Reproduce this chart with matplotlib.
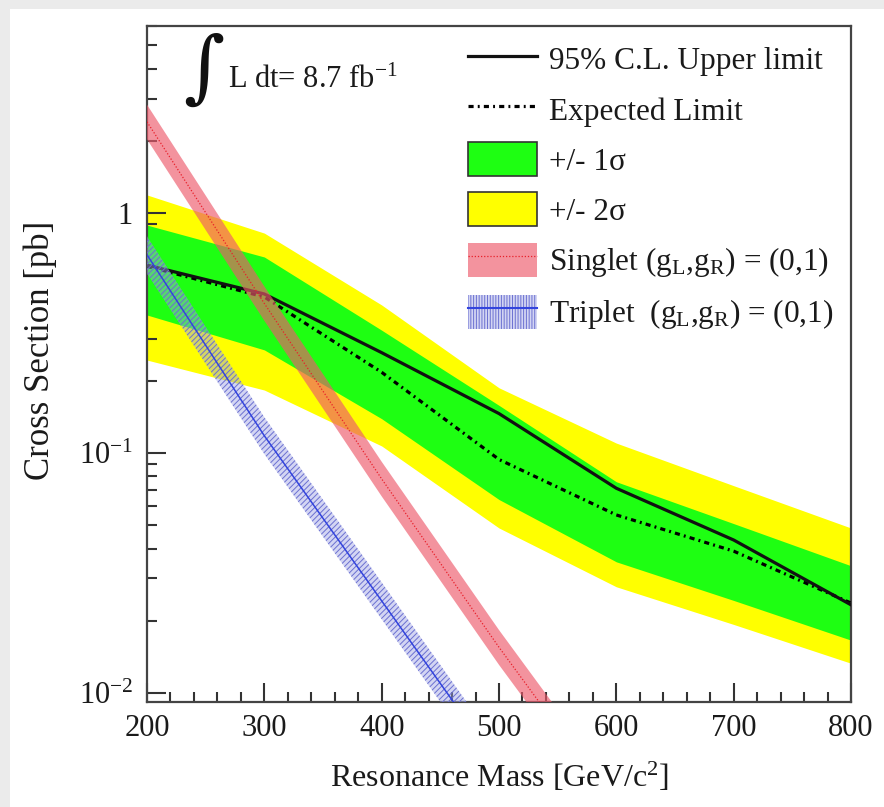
import matplotlib
matplotlib.use("Agg")
import matplotlib.pyplot as plt
from matplotlib.patches import Patch, Rectangle
from matplotlib.lines import Line2D
from matplotlib.ticker import FixedLocator, NullFormatter

plt.rcParams['font.family'] = ['Liberation Serif', 'DejaVu Serif']
plt.rcParams['mathtext.fontset'] = 'custom'
plt.rcParams['mathtext.rm'] = 'Liberation Serif'
plt.rcParams['mathtext.it'] = 'Liberation Serif:italic'
plt.rcParams['mathtext.default'] = 'rm'
plt.rcParams['hatch.linewidth'] = 0.7

# ---- data ----
mass = [200, 300, 400, 500, 600, 700, 800]
observed = [0.607, 0.46, 0.262, 0.146, 0.0713, 0.0434, 0.0233]
expected = [0.60, 0.447, 0.217, 0.094, 0.0552, 0.039, 0.0237]
one_sigma_low = [0.376, 0.269, 0.139, 0.0640, 0.0352, 0.0243, 0.0166]
one_sigma_high = [0.891, 0.656, 0.325, 0.158, 0.0759, 0.0508, 0.0339]
two_sigma_low = [0.244, 0.183, 0.107, 0.0487, 0.0277, 0.0193, 0.0133]
two_sigma_high = [1.19, 0.825, 0.414, 0.187, 0.110, 0.0731, 0.0487]

theory_mass = [200, 300, 400, 500, 550]
singlet = [2.40, 0.42, 0.078, 0.0155, 0.0072]
singlet_high = [2.83, 0.495, 0.092, 0.0183, 0.0085]
singlet_low = [2.03, 0.356, 0.066, 0.0131, 0.0061]
triplet = [0.67, 0.118, 0.0242, 0.00496, 0.0023]
triplet_high = [0.80, 0.141, 0.0289, 0.00592, 0.00275]
triplet_low = [0.56, 0.099, 0.0203, 0.00415, 0.00193]

x_ticks = [200, 300, 400, 500, 600, 700, 800]
y_ticks = [0.01, 0.1, 1]
y_tick_labels = ['$10^{-2}$', '$10^{-1}$', '1']

labels = ['95% C.L. Upper limit', 'Expected Limit', '+/- 1σ', '+/- 2σ',
          'Singlet (g$_{L}$,g$_{R}$) = (0,1)', 'Triplet  (g$_{L}$,g$_{R}$) = (0,1)']

# ---- figure ----
W, H = 884, 807
fig = plt.figure(figsize=(W / 100, H / 100), dpi=100, facecolor='white')
fig.patches.append(Rectangle((0, 1 - 9 / H), 1, 9 / H, transform=fig.transFigure,
                             facecolor='#ebebeb', edgecolor='none', zorder=0))
fig.patches.append(Rectangle((0, 0), 10 / W, 1, transform=fig.transFigure,
                             facecolor='#ebebeb', edgecolor='none', zorder=0))

ax = fig.add_axes([147 / W, 1 - 702 / H, (851 - 147) / W, (702 - 26) / H])

green = '#1eff12'
yellow = '#ffff00'
red_face = (0.93, 0.35, 0.42)
blue_face = (0.62, 0.64, 0.90)
blue_edge = (0.42, 0.44, 0.82)

ax.fill_between(mass, two_sigma_low, two_sigma_high, color=yellow, lw=0, zorder=1)
ax.fill_between(mass, one_sigma_low, one_sigma_high, color=green, lw=0, zorder=2)
exp_ls = (0, (1.6, 1.3, 0.6, 1.3))
ax.plot(mass, expected, color='black', lw=2.3, ls=exp_ls, zorder=3)
ax.plot(mass, observed, color='#111111', lw=2.3, zorder=4)

ax.fill_between(theory_mass, singlet_low, singlet_high, facecolor=red_face,
                alpha=0.65, lw=0, zorder=5)
ax.plot(theory_mass, singlet, color='#e8202a', lw=0.9, ls=(0, (1, 1.5)), zorder=6)
ax.fill_between(theory_mass, triplet_low, triplet_high, facecolor=blue_face,
                alpha=0.45, lw=0, zorder=5)
ax.fill_between(theory_mass, triplet_low, triplet_high, facecolor='none',
                edgecolor=blue_edge, hatch='//////', lw=0, zorder=5)
ax.plot(theory_mass, triplet, color='#3344dd', lw=1.1, zorder=6)

ax.set_yscale('log')
ax.set_xlim(200, 800)
ax.set_ylim(0.00917, 6.02)

ax.xaxis.set_major_locator(FixedLocator(x_ticks))
ax.xaxis.set_minor_locator(FixedLocator(list(range(200, 801, 20))))
ax.set_xticklabels([str(v) for v in x_ticks])
ax.yaxis.set_major_locator(FixedLocator(y_ticks))
ax.set_yticklabels(y_tick_labels)
minor_y = [m * d for d in (0.01, 0.1, 1) for m in range(2, 10)]
ax.yaxis.set_minor_locator(FixedLocator(minor_y))
ax.yaxis.set_minor_formatter(NullFormatter())

ax.tick_params(which='both', direction='in', top=False, right=False,
               colors='#333333', labelcolor='#1a1a1a', width=1.5, labelsize=22)
ax.tick_params(which='major', length=14)
ax.tick_params(which='minor', length=7.5)
ax.tick_params(axis='x', which='major', pad=9)
ax.tick_params(axis='y', which='major', pad=10)
for s in ax.spines.values():
    s.set_linewidth(1.6)
    s.set_color('#444444')

ax.set_xlabel('Resonance Mass [GeV/c$^{2}$]', fontsize=23, color='#1a1a1a')
ax.xaxis.set_label_coords(0.5, -0.087)
ax.set_ylabel('Cross Section [pb]', fontsize=25, color='#1a1a1a')
ax.yaxis.set_label_coords(-0.128, 0.52)

# luminosity annotation
ax.text(204 / W, 1 - 71 / H, '∫', transform=fig.transFigure, fontsize=57,
        family='DejaVu Serif', ha='center', va='center', color='#111111')
ax.text(228 / W, 1 - 88 / H, 'L dt= 8.7 fb$^{-1}$', transform=fig.transFigure,
        fontsize=22, ha='left', va='baseline', color='#1a1a1a')

# legend
h_obs = Line2D([], [], color='#111111', lw=2.3)
h_exp = Line2D([], [], color='black', lw=2.3, ls=exp_ls)
h_1s = Patch(facecolor=green, edgecolor='#333333', lw=1.2)
h_2s = Patch(facecolor=yellow, edgecolor='#333333', lw=1.2)
h_s = (Patch(facecolor=red_face, alpha=0.65, lw=0),
       Line2D([], [], color='#e8202a', lw=0.9, ls=(0, (1, 1.5))))
h_t = (Patch(facecolor=blue_face, alpha=0.45, lw=0),
       Patch(facecolor='none', edgecolor=blue_edge, hatch='||||||', lw=0),
       Line2D([], [], color='#3344dd', lw=1.5))
leg = ax.legend([h_obs, h_exp, h_1s, h_2s, h_s, h_t], labels,
                loc='upper left', bbox_to_anchor=(468 / W, 1 - 42 / H),
                bbox_transform=fig.transFigure, frameon=False, fontsize=22.5,
                handlelength=2.2, handleheight=1.3, handletextpad=0.4,
                labelspacing=0.5, borderpad=0, borderaxespad=0)
for t in leg.get_texts():
    t.set_color('#1a1a1a')

fig.savefig('out.png', dpi=100, facecolor=fig.get_facecolor())
